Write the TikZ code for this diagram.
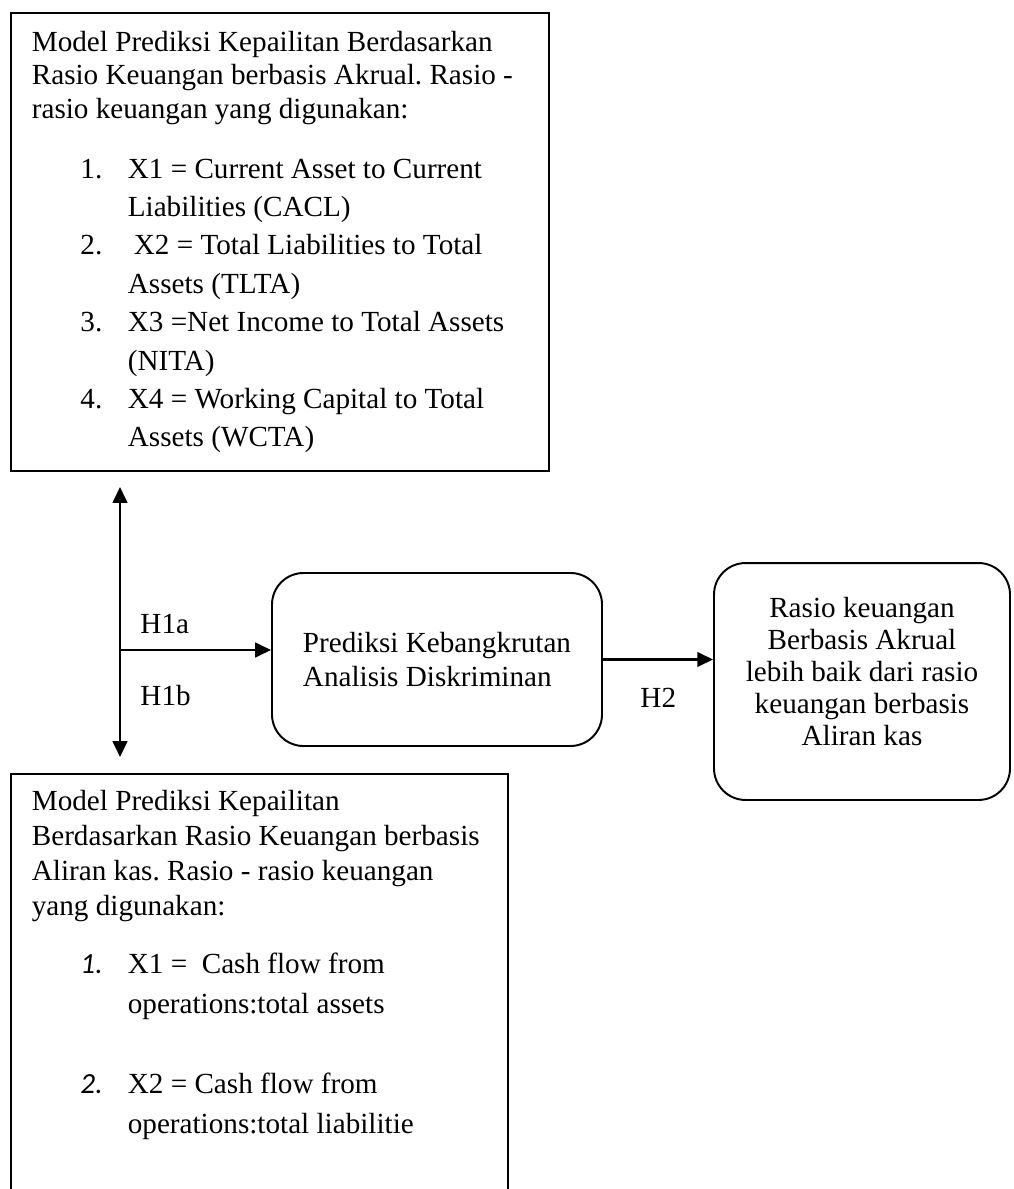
\documentclass[tikz,border=0pt]{standalone}
\usepackage{fontspec}
\setmainfont{Liberation Serif}
\newfontfamily\numfont{Carlito}
\usetikzlibrary{arrows.meta, positioning, calc}

\newcommand{\itemrow}[2]{\hspace*{20pt}\makebox[19.5pt][l]{#1}#2}
\newcommand{\itemcont}[1]{\hspace*{39.5pt}#1}
\newcommand{\fixspace}{\frenchspacing\spaceskip=3pt\relax}

\begin{document}
\begin{tikzpicture}[
      x=0.4115pt, y=-0.4115pt,
      font=\fontsize{12pt}{13.8pt}\selectfont,
      box/.style={rectangle, draw, line width=0.8pt, align=flush left, inner xsep=8.6pt,
        execute at begin node=\fixspace},
      rbox/.style={rectangle, draw, line width=0.8pt, rounded corners=13pt,
        execute at begin node=\fixspace},
      arrow/.style={-{Triangle[length=6.5pt, width=6pt]}, line width=1pt},
      lbl/.style={anchor=base west, inner sep=0pt}
    ]
    \useasboundingbox (0,0) rectangle (1013,1189);

    \node[box, anchor=north west, text width=204pt, minimum height=188.5pt] (akrual) at (10,12) {%
      Model Prediksi Kepailitan Berdasarkan\\
      Rasio Keuangan berbasis Akrual. Rasio -\\
      rasio keuangan yang digunakan:\\[10.9pt]
      \itemrow{1.}{X1 = Current Asset to Current}\\[2pt]
      \itemcont{Liabilities (CACL)}\\[2pt]
      \itemrow{2.}{\hspace{2.5pt}X2 = Total Liabilities to Total}\\[2pt]
      \itemcont{Assets (TLTA)}\\[2pt]
      \itemrow{3.}{X3 =Net Income to Total Assets}\\[2pt]
      \itemcont{(NITA)}\\[2pt]
      \itemrow{4.}{X4 = Working Capital to Total}\\[2pt]
      \itemcont{Assets (WCTA)}};

    \node[box, anchor=north west, text width=187.3pt, inner ysep=6.6pt] (aliran) at (10,773) {%
      Model Prediksi Kepailitan\\[0.6pt]
      Berdasarkan Rasio Keuangan berbasis\\[0.6pt]
      Aliran kas. Rasio - rasio keuangan\\[0.6pt]
      yang digunakan:\\[10.1pt]
      \itemrow{\numfont\itshape 1.}{X1 = \ Cash flow from}\\[2.7pt]
      \itemcont{operations:total assets}\\[19.1pt]
      \itemrow{\numfont\itshape 2.}{X2 = Cash flow from}\\[2.7pt]
      \itemcont{operations:total liabilitie}\\[80pt]
      \mbox{}};

    \node[rbox, align=left, minimum width=135.8pt, minimum height=71.2pt,
      font=\fontsize{12pt}{14pt}\selectfont] (diskrim) at (437,659.5)
      {Prediksi Kebangkrutan\\Analisis Diskriminan};

    \node[rbox, align=center, minimum width=121.8pt, minimum height=97.5pt,
      font=\fontsize{12pt}{13.2pt}\selectfont] (hasil) at (862,681.5)
      {Rasio keuangan\\Berbasis Akrual\\lebih baik dari rasio\\keuangan berbasis\\Aliran kas\\[-5pt]\mbox{}};

    % hypothesis arrows
    \coordinate (h1top) at (120,487);
    \coordinate (h1bot) at (120,757);
    \coordinate (junc) at (120,650);
    \draw[arrow, {Triangle[length=6.5pt, width=6pt]}-{Triangle[length=6.5pt, width=6pt]}] (h1top) -- (h1bot);
    \draw[arrow] (junc) -- (junc -| diskrim.west);
    \draw[arrow] (diskrim.east) -- (diskrim.east -| hasil.west);

    \node[lbl] (h1a) at (140,633) {H1a};
    \node[lbl] (h1b) at (140,705) {H1b};
    \node[lbl] (h2) at (640,707) {H2};
  \end{tikzpicture}
\end{document}
